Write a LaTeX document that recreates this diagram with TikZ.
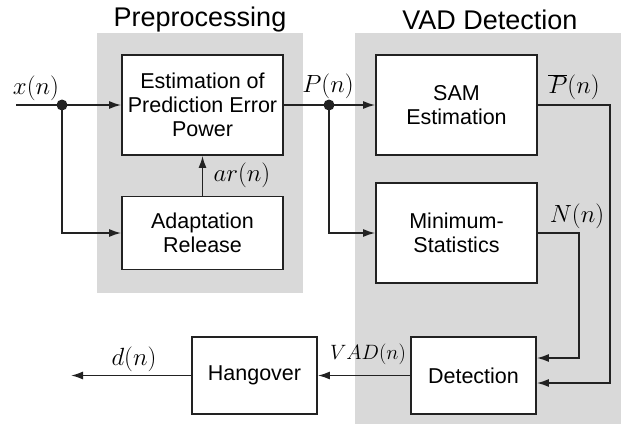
\documentclass[tikz,border=0pt]{standalone}
\usepackage{fontspec}
\setmainfont{Liberation Sans}
\usetikzlibrary{arrows.meta}
\definecolor{panel}{RGB}{217,217,217}
\definecolor{ink}{RGB}{34,34,34}
\tikzset{
  blk/.style={draw=ink, line width=1.7pt, fill=white, align=center, inner sep=0pt,
    font=\fontsize{21.5}{24}\selectfont},
  conn/.style={draw=ink, line width=1.6pt},
  arr/.style={conn, -{Latex[length=12pt,width=8pt]}},
  lbl/.style={inner sep=0pt, font=\fontsize{26}{28}\selectfont},
  ttl/.style={inner sep=0pt, font=\fontsize{27}{30}\selectfont},
  dotc/.style={circle, fill=ink, inner sep=0pt, minimum size=11pt}
}
\begin{document}
\begin{tikzpicture}[x=1pt,y=-1pt]
\useasboundingbox (0,0) rectangle (621,424);
% panels
\fill[panel] (97,33) rectangle (303,293);
\fill[panel] (355,33) rectangle (621,424);
\node[ttl] (tpre) at (200,20) {Preprocessing};
\node[ttl] (tvad) at (490,20) {VAD Detection};
% blocks
\node[blk, minimum width=161pt, minimum height=100pt] (est) at (202.5,105) {Estimation of\\Prediction Error\\Power};
\node[blk, minimum width=161pt, minimum height=73pt] (ada) at (202.5,233) {Adaptation\\Release};
\node[blk, minimum width=161pt, minimum height=100pt] (sam) at (456.5,105) {SAM\\Estimation};
\node[blk, minimum width=161pt, minimum height=100pt] (min) at (456.5,233) {Minimum-\\Statistics};
\node[blk, minimum width=125pt, minimum height=77pt] (det) at (473.5,375.5) {Detection};
\node[blk, minimum width=125pt, minimum height=77pt] (hang) at (254.5,375.5) {Hangover};
% coordinates
\coordinate (xin) at (16,105);
\node[dotc] (xd) at (62,105) {};
\node[dotc] (pd) at (329,105) {};
\coordinate (pr) at (610,383);
\coordinate (nr) at (579,358);
\coordinate (dout) at (71,375.5);
% connectors
\draw[conn] (xin) -- (xd.center);
\draw[arr] (xd.center) -- (est.west);
\draw[arr] (xd.center) |- (ada.west);
\draw[arr] (ada.north) -- (est.south);
\draw[conn] (est.east) -- (pd.center);
\draw[arr] (pd.center) -- (sam.west);
\draw[arr] (pd.center) |- (min.west);
\draw[arr] (sam.east) -| (pr) -- (pr -| det.east);
\draw[arr] (min.east) -| (nr) -- (nr -| det.east);
\draw[arr] (det.west) -- (hang.east);
\draw[arr] (hang.west) -- (dout);
% labels
\node[lbl] (lx) at (36,88) {$x(n)$};
\node[lbl] (lar) at (242,175) {$ar(n)$};
\node[lbl] (lp) at (328,86) {$P(n)$};
\node[lbl] (lpb) at (574,87) {$\overline{P}(n)$};
\node[lbl] (ln) at (577,216) {$N(n)$};
\node[lbl, font=\fontsize{21}{23}\selectfont] (lvad) at (368,354) {$VAD(n)$};
\node[lbl] (ld) at (134,359) {$d(n)$};
\end{tikzpicture}
\end{document}
